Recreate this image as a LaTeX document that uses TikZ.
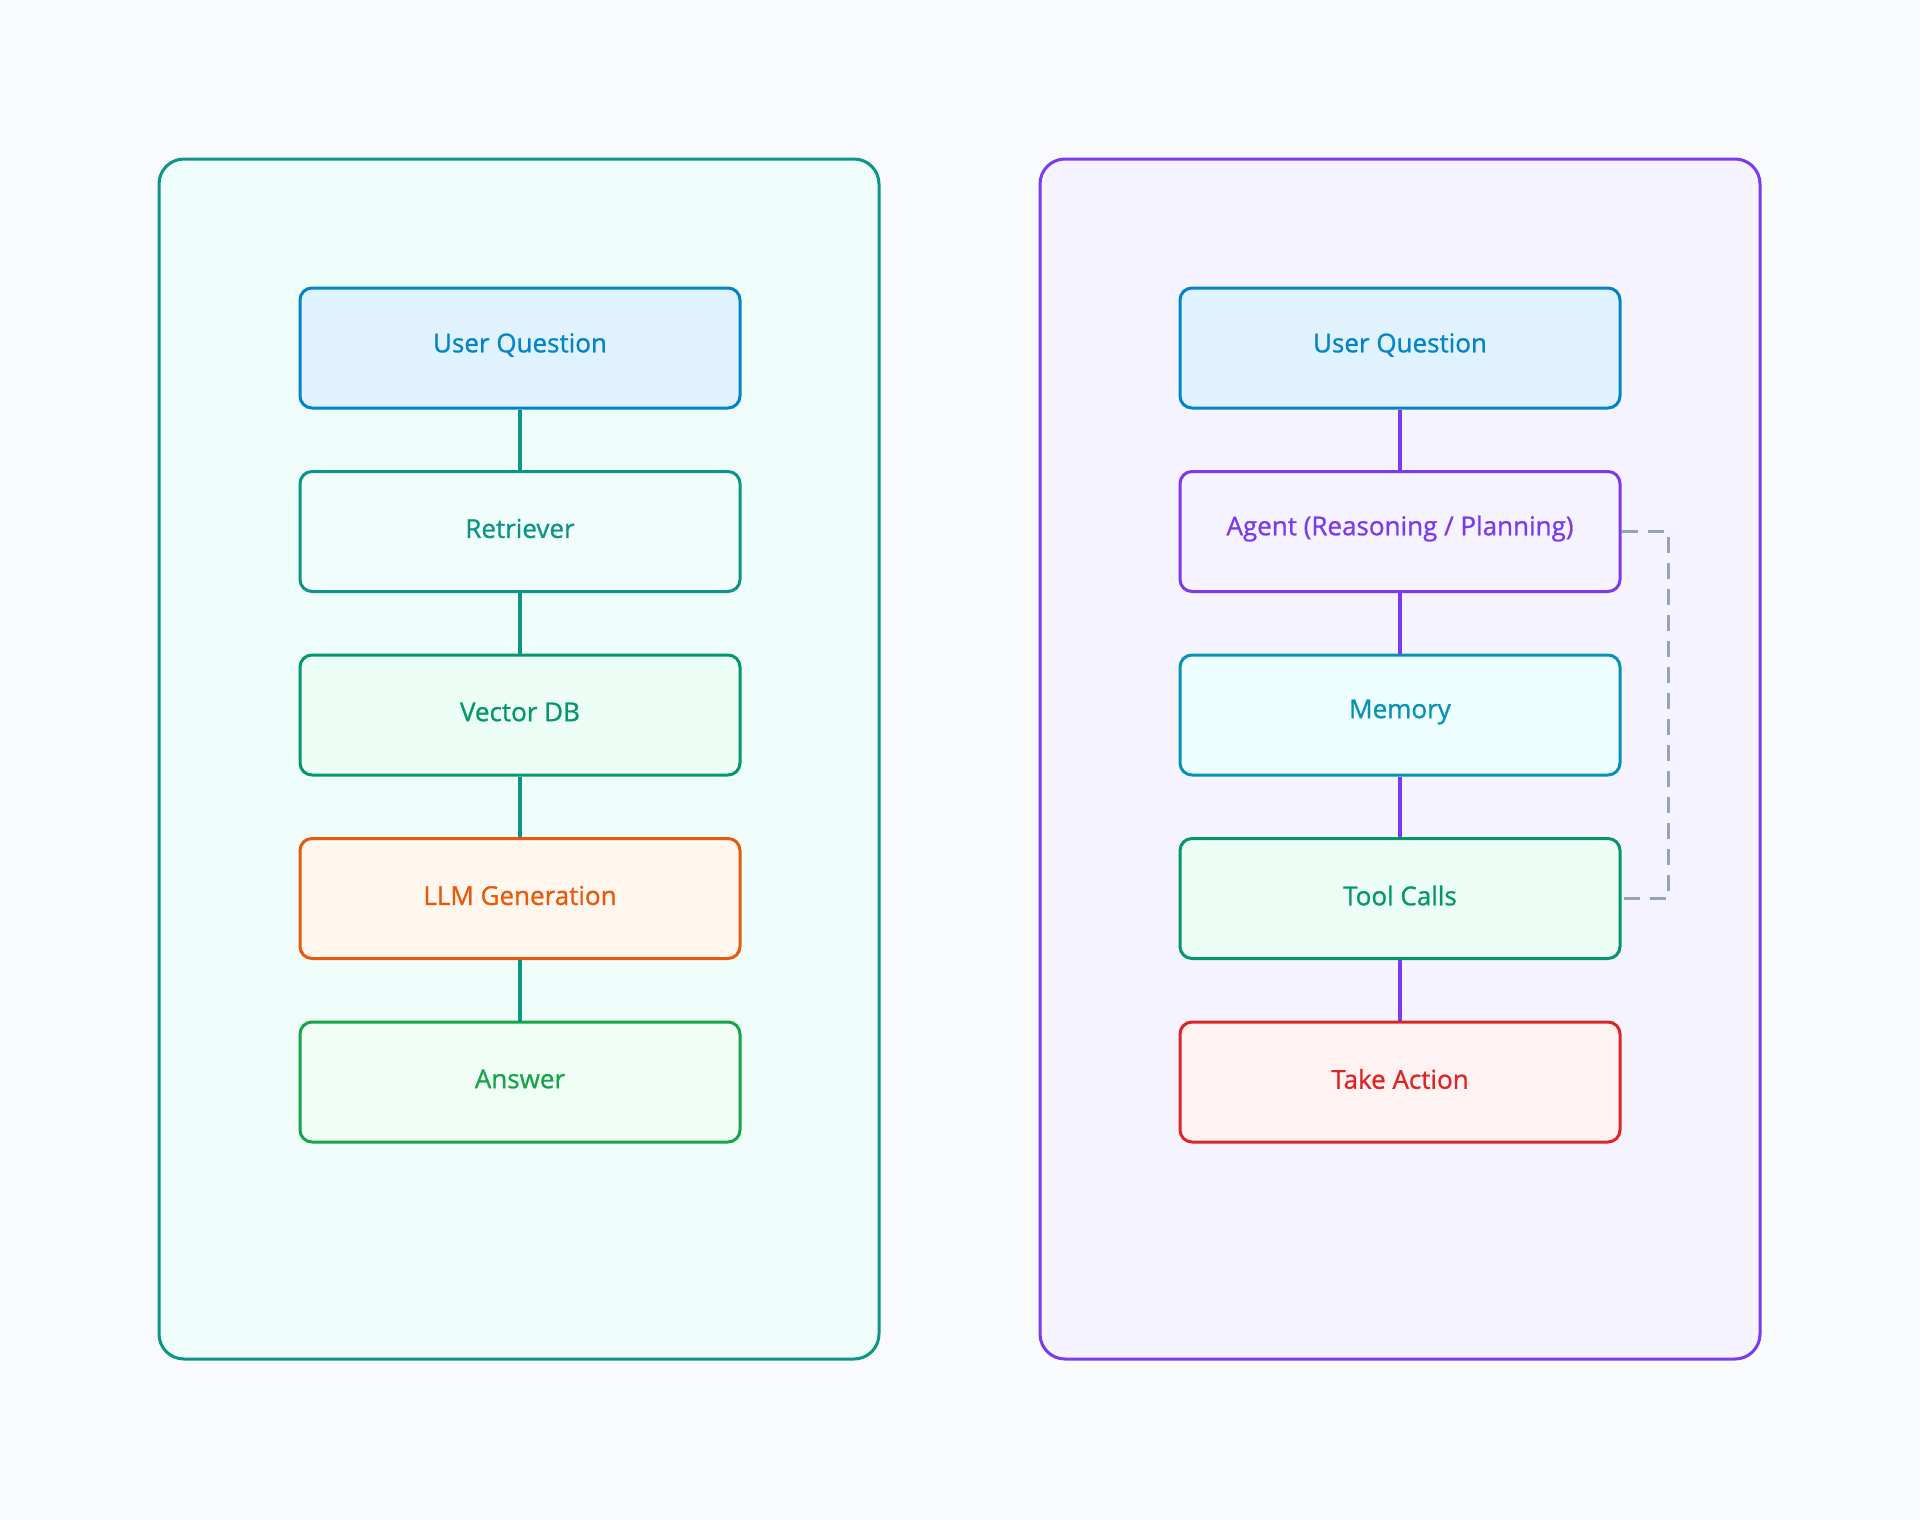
\documentclass[tikz,border=0pt]{standalone}
\usepackage{fontspec}
\setmainfont{Open Sans}
\newfontfamily\labelfont{Open Sans}[FakeBold=0.9]
\definecolor{bgc}{HTML}{F8FAFC}
\definecolor{tealB}{HTML}{0D9488}
\definecolor{tealF}{HTML}{EEFDF9}
\definecolor{vioB}{HTML}{7C3AED}
\definecolor{vioF}{HTML}{F5F3FF}
\definecolor{skyB}{HTML}{0284C7}
\definecolor{skyF}{HTML}{E0F2FE}
\definecolor{retF}{HTML}{F0FDFA}
\definecolor{emB}{HTML}{059669}
\definecolor{emF}{HTML}{ECFDF5}
\definecolor{orB}{HTML}{EA580C}
\definecolor{orF}{HTML}{FFF7ED}
\definecolor{grB}{HTML}{16A34A}
\definecolor{grF}{HTML}{F0FDF4}
\definecolor{cyB}{HTML}{0891B2}
\definecolor{cyF}{HTML}{ECFEFF}
\definecolor{redB}{HTML}{DC2626}
\definecolor{redF}{HTML}{FEF2F2}
\definecolor{slateC}{HTML}{94A3B8}
\tikzset{
  panel/.style={rounded corners=12.5pt, line width=1.5pt},
  stepbox/.style n args={2}{draw=#1, fill=#2, rounded corners=6pt, line width=1.5pt,
     minimum width=220pt, minimum height=60pt, inner sep=0pt,
     label={[text=#1, font=\labelfont\fontsize{13}{15}\selectfont, yshift=1.5pt]center:\nodetext}},
  link/.style={line width=1.6pt},
  dashlink/.style={draw=slateC, line width=1.5pt, dash pattern=on 8pt off 5pt}
}
\newcommand\boxnode[5]{\def\nodetext{#5}\node[stepbox={#3}{#4}] (#1) at #2 {};}
\begin{document}
\begin{tikzpicture}[x=0.5pt,y=-0.5pt]
\fill[bgc] (0,0) rectangle (1920,1520);
\useasboundingbox (0,0) rectangle (1920,1520);
% panels
\draw[panel, draw=tealB, fill=tealF] (159,159) rectangle (879,1359);
\draw[panel, draw=vioB, fill=vioF] (1040,159) rectangle (1760,1359);
% left column
\boxnode{l1}{(520,348)}{skyB}{skyF}{User Question}
\boxnode{l2}{(520,531.5)}{tealB}{retF}{Retriever}
\boxnode{l3}{(520,715)}{emB}{emF}{Vector DB}
\boxnode{l4}{(520,898.5)}{orB}{orF}{LLM Generation}
\boxnode{l5}{(520,1082)}{grB}{grF}{Answer}
% right column
\boxnode{r1}{(1400,348)}{skyB}{skyF}{User Question}
\boxnode{r2}{(1400,531.5)}{vioB}{vioF}{Agent (Reasoning / Planning)}
\boxnode{r3}{(1400,715)}{cyB}{cyF}{Memory}
\boxnode{r4}{(1400,898.5)}{emB}{emF}{Tool Calls}
\boxnode{r5}{(1400,1082)}{redB}{redF}{Take Action}
% connectors
\foreach \a/\b in {l1/l2,l2/l3,l3/l4,l4/l5} \draw[link, tealB] (\a.south) -- (\b.north);
\foreach \a/\b in {r1/r2,r2/r3,r3/r4,r4/r5} \draw[link, vioB] (\a.south) -- (\b.north);
\coordinate (d1) at (1668,531.5);
\coordinate (d2) at (1668,898.5);
\draw[dashlink] (r2.east) -- (d1) -- (d2) -- (r4.east);
\end{tikzpicture}
\end{document}
